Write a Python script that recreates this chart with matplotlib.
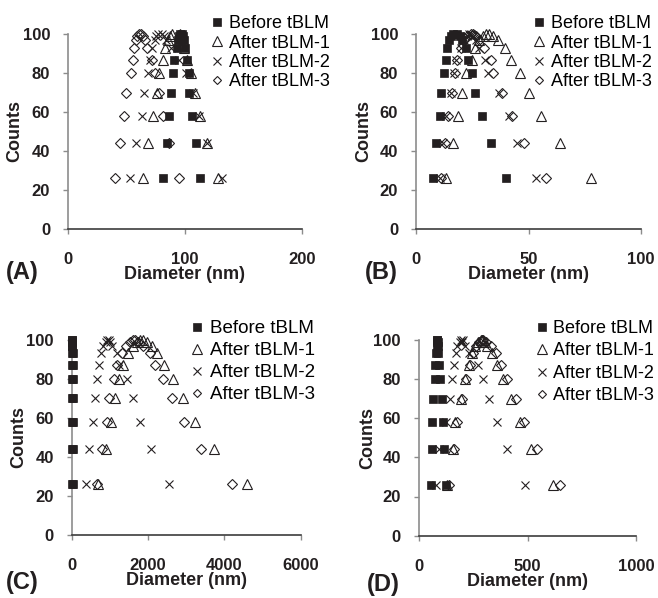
import matplotlib as mpl
import matplotlib.pyplot as plt

mpl.rcParams['font.family'] = 'sans-serif'
mpl.rcParams['font.sans-serif'] = ['Liberation Sans', 'DejaVu Sans']

# count levels, rising branch then falling branch
levels = [26, 44, 58, 70, 80, 87, 93, 97, 99, 100]
counts = levels + levels[::-1]

series_names = ['Before tBLM', 'After tBLM-1', 'After tBLM-2', 'After tBLM-3']

# diameters (nm), left branch then right branch
before_A = [81, 84.6, 86.6, 88.3, 89.4, 91, 93, 94.3, 95, 96,
            97.7, 98.6, 99.4, 100.3, 101.4, 103, 103.7, 105.7, 109, 113]
after1_A = [63.7, 68.6, 72.9, 75.7, 78, 80.9, 82.9, 85.7, 87, 88.6,
            95.7, 97, 98, 99, 101.4, 104.9, 108.6, 113, 118.6, 128.6]
after2_A = [52.9, 58, 62.9, 65, 68.6, 70, 72, 74, 75.5, 77,
            80, 82, 84, 88, 95, 101, 107, 112, 119, 131.4]
after3_A = [40, 44.3, 47.7, 49.4, 53.7, 55.7, 56.3, 58, 59, 60.9,
            62, 63.7, 65.7, 67.7, 71.4, 74.3, 77.7, 81.4, 86.6, 94.9]

before_B = [7.4, 8.6, 10.5, 11.1, 12.3, 13.1, 13.8, 14.6, 15.3, 16.3,
            18.3, 19.3, 20.5, 22, 23.2, 24.7, 26, 29.4, 33.1, 40.1]
after1_B = [13.4, 16.3, 18.4, 20.5, 22, 24.7, 26.2, 27.9, 29.7, 30.9,
            32.4, 34.3, 36.6, 39.4, 42.1, 46.1, 50.2, 55.7, 63.9, 77.7]
after2_B = [10.4, 12, 13.1, 15.3, 16.8, 17.5, 19.8, 21.2, 22.7, 23.5,
            24.2, 25.3, 26.4, 27.9, 30.6, 32.1, 36.8, 41.3, 45, 53.5]
after3_B = [11.1, 12.8, 14.3, 16, 17.2, 18, 19.8, 21.2, 22.7, 24.2,
            25.3, 26.4, 27.9, 30.2, 33.1, 34.2, 38, 42.5, 48, 57.9]

before_C = [8, 9, 10, 11, 12, 13, 14, 15, 16, 17,
            18, 19, 20, 22, 24, 26, 28, 31, 35, 42]
after1_C = [698, 899, 1030, 1135, 1240, 1336, 1484, 1598, 1702, 1790,
            1860, 1964, 2095, 2244, 2418, 2645, 2907, 3230, 3736, 4600]
after2_C = [375, 463, 550, 611, 672, 725, 768, 829, 899, 934,
            978, 1004, 1048, 1179, 1248, 1458, 1598, 1790, 2069, 2549]
after3_C = [655, 786, 934, 986, 1109, 1179, 1310, 1423, 1528, 1598,
            1659, 1746, 1860, 2052, 2182, 2383, 2636, 2942, 3387, 4208]

before_D = [54, 61, 61, 64, 74, 74, 80, 81, 83, 84,
            85, 86, 87, 89, 92, 97, 104, 112, 115, 126]
after1_D = [130, 158, 166, 195, 212, 230, 242, 258, 273, 284,
            291, 299, 314, 334, 361, 387, 422, 463, 517, 617]
after2_D = [80, 92, 123, 141, 150, 161, 169, 173, 187, 195,
            202, 199, 212, 230, 273, 295, 322, 360, 406, 488]
after3_D = [138, 161, 176, 199, 215, 233, 248, 264, 276, 288,
            295, 307, 330, 353, 376, 407, 445, 483, 545, 647]

panels = [
    dict(tag='(A)', data=[before_A, after1_A, after2_A, after3_A], xmax=200, xstep=100),
    dict(tag='(B)', data=[before_B, after1_B, after2_B, after3_B], xmax=100, xstep=50),
    dict(tag='(C)', data=[before_C, after1_C, after2_C, after3_C], xmax=6000, xstep=2000),
    dict(tag='(D)', data=[before_D, after1_D, after2_D, after3_D], xmax=1000, xstep=500),
]

# layout in figure pixels: (x0, x1, y_top, y_bottom)
W, H = 658, 598
boxes = [(68.3, 301.7, 34.3, 228.7), (416.3, 640.7, 34.3, 228.7),
         (71.7, 300.7, 339.7, 535.0), (419.0, 636.3, 339.7, 535.7)]
tag_pos = [(6, 273), (365, 273), (6, 582), (367, 584)]
legend_pos = [(210, 15.5), (532.5, 15.5), (190, 320), (535.5, 320)]
legend_size = [13, 13, 13.5, 13]
legend_space = [0.12, 0.12, 0.26, 0.3]
legend_textpad = [0.3, 0.3, 0.3, 0.2]

TEXT_COLOR = '#231f20'
YAXIS_COLOR = '#8c8c8c'
XAXIS_COLOR = '#3c3c3c'

styles = [
    dict(marker='s', markersize=6, color=TEXT_COLOR, markeredgewidth=0.5, zorder=6),
    dict(marker='^', markersize=7.4, markerfacecolor='none', markeredgecolor=TEXT_COLOR,
         markeredgewidth=0.8, zorder=5),
    dict(marker='x', markersize=6, color=TEXT_COLOR, markeredgewidth=0.8, zorder=4),
    dict(marker='D', markersize=5, markerfacecolor='none', markeredgecolor=TEXT_COLOR,
         markeredgewidth=0.8, zorder=3),
]

fig = plt.figure(figsize=(W / 100, H / 100), dpi=100)

for ii, p in enumerate(panels):
    x0, x1, yt, yb = boxes[ii]
    ax = fig.add_axes([x0 / W, 1 - yb / H, (x1 - x0) / W, (yb - yt) / H])
    handles = []
    for data, name, st in zip(p['data'], series_names, styles):
        h, = ax.plot(data, counts, linestyle='none', clip_on=False, label=name, **st)
        handles.append(h)
    ax.set_xlim(0, p['xmax'])
    ax.set_ylim(0, 100)
    ax.set_xticks(range(0, p['xmax'] + 1, p['xstep']))
    ax.set_yticks(range(0, 101, 20))
    for s in ['top', 'right']:
        ax.spines[s].set_visible(False)
    ax.spines['left'].set_color(YAXIS_COLOR)
    ax.spines['left'].set_linewidth(1.2)
    ax.spines['bottom'].set_color(XAXIS_COLOR)
    ax.spines['bottom'].set_linewidth(1.2)
    ax.tick_params(axis='y', direction='out', length=3.6, width=1, color=YAXIS_COLOR,
                   pad=9.4, labelsize=12, labelcolor=TEXT_COLOR)
    ax.tick_params(axis='x', direction='out', length=3.6, width=1, color=YAXIS_COLOR,
                   pad=13, labelsize=12, labelcolor=TEXT_COLOR)
    for lab in ax.get_xticklabels() + ax.get_yticklabels():
        lab.set_fontweight('bold')
    ax.set_xlabel('Diameter (nm)', fontsize=13, fontweight='bold', color=TEXT_COLOR)
    ax.set_ylabel('Counts', fontsize=13, fontweight='bold', color=TEXT_COLOR)
    ax.xaxis.set_label_coords(0.5, -(266 - 228.7) / 194.4)
    ax.yaxis.set_label_coords(-0.195, 0.5)
    ax.set_facecolor('none')

    lx, ly = legend_pos[ii]
    ax.legend(handles=handles, loc='upper left', bbox_to_anchor=(lx / W, 1 - ly / H),
              bbox_transform=fig.transFigure, frameon=False, fontsize=legend_size[ii],
              handlelength=0.75, handletextpad=legend_textpad[ii], borderpad=0,
              borderaxespad=0, labelspacing=legend_space[ii], markerscale=0.9)

    tx, ty = tag_pos[ii]
    fig.text(tx / W, 1 - ty / H, p['tag'], fontsize=17, fontweight='bold',
             color=TEXT_COLOR, ha='left', va='center')

fig.savefig('out.png', dpi=100)
